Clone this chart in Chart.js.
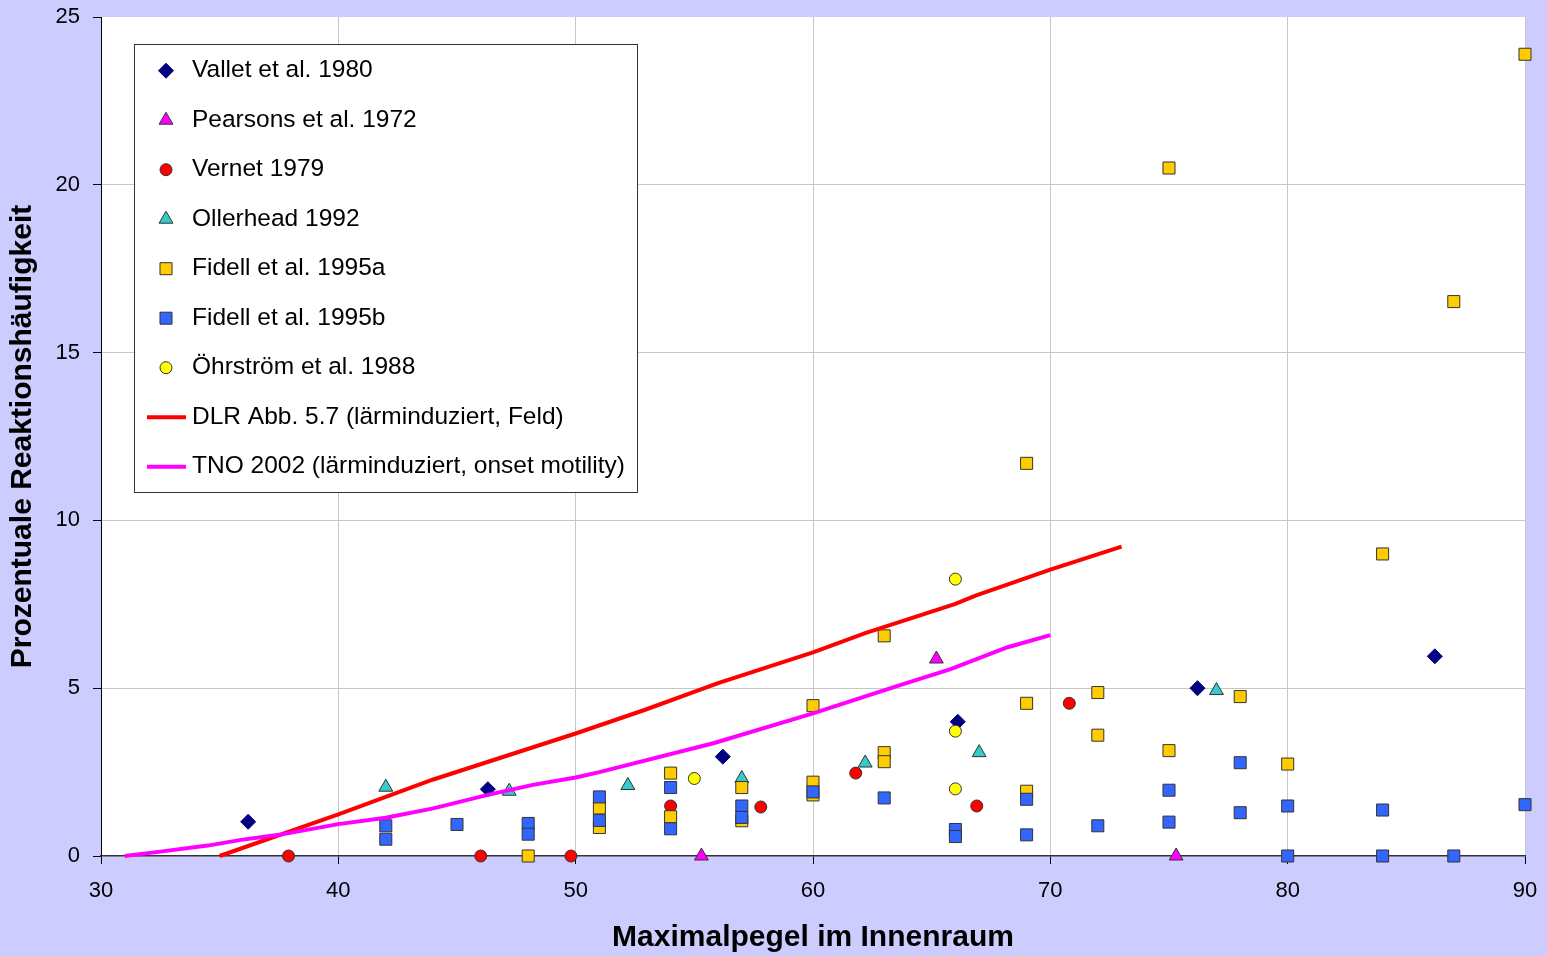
<!DOCTYPE html>
<html>
<head>
<meta charset="utf-8">
<script src="https://cdn.jsdelivr.net/npm/chart.js@4.4.1/dist/chart.umd.min.js"></script>
<style>
html,body{margin:0;padding:0;background:#ccccff;}
canvas{display:block;}
</style>
</head>
<body>
<canvas id="c" width="1547" height="956"></canvas>
<script>
// ---------- data ----------
const xTitle = 'Maximalpegel im Innenraum';
const yTitle = 'Prozentuale Reaktionshäufigkeit';
const xRange = [30, 90, 10];
const yRange = [0, 25, 5];

const seriesLabels = [
  'Vallet et al. 1980',
  'Pearsons et al. 1972',
  'Vernet 1979',
  'Ollerhead 1992',
  'Fidell et al. 1995a',
  'Fidell et al. 1995b',
  'Öhrström et al. 1988',
  'DLR Abb. 5.7 (lärminduziert, Feld)',
  'TNO 2002 (lärminduziert, onset motility)'
];

const vallet = [[36.2,1.02],[46.3,1.99],[56.2,2.96],[66.1,4.0],[76.2,5.0],[86.2,5.95]];
const pearsons = [[55.3,0],[65.2,5.87],[75.3,0]];
const vernet = [[37.9,0],[46.0,0],[49.8,0],[54.0,1.49],[57.8,1.46],[61.8,2.47],[66.9,1.49],[70.8,4.55]];
const ollerhead = [[42.0,2.05],[47.2,1.93],[52.2,2.1],[57.0,2.31],[62.2,2.77],[67.0,3.08],[77.0,4.93]];
const fidellA = [[48,0],[51,1.43],[51,0.85],[54,2.47],[54,1.17],[57,2.04],[57,1.05],[60,4.48],[60,2.2],[60,1.82],
  [63,6.56],[63,3.08],[63,2.81],[69,11.7],[69,4.55],[69,1.93],[72,4.87],[72,3.6],[75,20.5],[75,3.14],
  [78,4.75],[80,2.74],[84,9.0],[87,16.52],[90,23.89]];
const fidellB = [[42,0.9],[42,0.5],[45,0.94],[48,0.97],[48,0.65],[51,1.76],[51,1.06],[54,2.04],[54,0.81],
  [57,1.49],[57,1.15],[60,1.91],[63,1.73],[66,0.79],[66,0.58],[69,1.69],[69,0.63],[72,0.9],[75,1.96],
  [75,1.01],[78,2.78],[78,1.29],[80,1.49],[80,0],[84,1.37],[84,0],[87,0],[90,1.53]];
const ohrstrom = [[55.0,2.31],[66.0,8.25],[66.0,3.72],[66.0,2.0]];
const dlrCurve = [[35,0],[40,1.24],[44,2.28],[50,3.65],[52.9,4.35],[56,5.15],[60,6.07],[62.2,6.64],
  [66,7.51],[66.85,7.76],[70,8.53],[73,9.22]];
const tnoCurve = [[31,0],[32.5,0.13],[34.5,0.31],[35.9,0.48],[37.5,0.63],[40,0.95],[42,1.14],[44,1.42],
  [46.3,1.82],[48.2,2.12],[50,2.34],[51,2.5],[55.8,3.36],[60,4.25],[63.7,5.1],[65.8,5.57],[68.2,6.22],[70,6.58]];

// ---------- styling ----------
const FONT = "'Liberation Sans', Arial, Helvetica, sans-serif";
const toXY = a => a.map(p => ({x: p[0], y: p[1]}));
const EDGE = '#333333';

function pts(label, data, style, radius, fill, edge) {
  return {label, data: toXY(data), pointStyle: style, pointRadius: radius, pointHoverRadius: radius,
    backgroundColor: fill, borderColor: edge, borderWidth: 1, showLine: false, clip: false};
}
function curve(label, data, color) {
  return {label, data: toXY(data), showLine: true, pointRadius: 0, pointHoverRadius: 0,
    borderColor: color, backgroundColor: color, borderWidth: 4, tension: 0, fill: false, clip: false};
}

const datasets = [
  pts(seriesLabels[0], vallet, 'rectRot', 7.5, '#000080', '#000080'),
  pts(seriesLabels[1], pearsons, 'triangle', 8, '#ff00ff', EDGE),
  pts(seriesLabels[2], vernet, 'circle', 6, '#ff0000', EDGE),
  pts(seriesLabels[3], ollerhead, 'triangle', 8, '#33cccc', EDGE),
  pts(seriesLabels[4], fidellA, 'rect', 8.5, '#ffcc00', EDGE),
  pts(seriesLabels[5], fidellB, 'rect', 8.5, '#3366ff', EDGE),
  pts(seriesLabels[6], ohrstrom, 'circle', 6, '#ffff00', EDGE),
  curve(seriesLabels[7], dlrCurve, '#ff0000'),
  curve(seriesLabels[8], tnoCurve, '#ff00ff')
];
// later series drawn on top (like the original)
datasets.forEach((d, i) => { d.order = datasets.length - i; });

// ---------- plugins ----------
const bgPlugin = {
  id: 'bg',
  beforeDraw(chart) {
    const {ctx, chartArea: a} = chart;
    ctx.save();
    ctx.fillStyle = '#ccccff';
    ctx.fillRect(0, 0, chart.width, chart.height);
    ctx.fillStyle = '#ffffff';
    ctx.fillRect(a.left, a.top, a.right - a.left, a.bottom - a.top);
    ctx.restore();
  }
};

function marker(ctx, style, x, y, r, fill, edge) {
  ctx.beginPath();
  if (style === 'rectRot') {
    ctx.moveTo(x, y - r); ctx.lineTo(x + r, y); ctx.lineTo(x, y + r); ctx.lineTo(x - r, y); ctx.closePath();
  } else if (style === 'triangle') {
    const w = r * Math.sin(Math.PI * 2 / 3);
    ctx.moveTo(x, y - r); ctx.lineTo(x + w, y + r / 2); ctx.lineTo(x - w, y + r / 2); ctx.closePath();
  } else if (style === 'circle') {
    ctx.arc(x, y, r, 0, Math.PI * 2);
  } else {
    const s = r * Math.SQRT1_2;
    ctx.rect(x - s, y - s, 2 * s, 2 * s);
  }
  ctx.fillStyle = fill; ctx.fill();
  ctx.strokeStyle = edge; ctx.lineWidth = 1; ctx.stroke();
}

const legendBox = {left: 134, top: 44, width: 504, height: 449, rowTop: 70.7, rowStep: 49.5, markX: 166, textX: 192};
const boxLegend = {
  id: 'boxLegend',
  afterDraw(chart) {
    const ctx = chart.ctx, L = legendBox;
    ctx.save();
    ctx.fillStyle = '#ffffff';
    ctx.fillRect(L.left, L.top, L.width, L.height);
    ctx.strokeStyle = '#333333';
    ctx.lineWidth = 1;
    ctx.strokeRect(L.left + 0.5, L.top + 0.5, L.width - 1, L.height - 1);
    chart.data.datasets.forEach((ds, i) => {
      const y = L.rowTop + i * L.rowStep;
      if (ds.showLine) {
        ctx.beginPath();
        ctx.moveTo(147, y); ctx.lineTo(186, y);
        ctx.strokeStyle = ds.borderColor; ctx.lineWidth = 4; ctx.stroke();
      } else {
        marker(ctx, ds.pointStyle, L.markX, y, ds.pointRadius, ds.backgroundColor, ds.borderColor);
      }
      ctx.fillStyle = '#000000';
      ctx.font = '24.5px ' + FONT;
      ctx.textBaseline = 'middle';
      ctx.textAlign = 'left';
      ctx.fillText(ds.label, L.textX, y);
    });
    ctx.restore();
  }
};

// ---------- chart ----------
new Chart(document.getElementById('c'), {
  type: 'scatter',
  data: {datasets},
  plugins: [bgPlugin, boxLegend],
  options: {
    responsive: false,
    animation: false,
    devicePixelRatio: 1,
    events: [],
    layout: {autoPadding: false, padding: {left: 0, top: 17, right: 22, bottom: 0}},
    plugins: {legend: {display: false}, tooltip: {enabled: false}},
    scales: {
      x: {
        type: 'linear', position: 'bottom',
        min: xRange[0], max: xRange[1],
        afterFit: s => { s.height = 100; s.paddingLeft = 0; s.paddingRight = 0; },
        ticks: {stepSize: xRange[2], color: '#000', padding: 14, font: {family: FONT, size: 22}},
        grid: {
          color: c => (c.tick && c.tick.value === xRange[0]) ? 'rgba(0,0,0,0)' : '#c6c6c6',
          lineWidth: 1, tickColor: '#000', tickLength: 8, drawTicks: true
        },
        border: {color: '#333', width: 1.5},
        title: {display: true, text: xTitle, color: '#000', padding: {top: 0, bottom: 0},
          font: {family: FONT, size: 30, weight: 'bold'}}
      },
      y: {
        type: 'linear', position: 'left',
        min: yRange[0], max: yRange[1],
        afterFit: s => { s.width = 101; s.paddingTop = 0; s.paddingBottom = 0; },
        ticks: {stepSize: yRange[2], color: '#000', padding: 13, font: {family: FONT, size: 22}},
        grid: {
          color: c => (c.tick && (c.tick.value === yRange[0] || c.tick.value === yRange[1])) ? 'rgba(0,0,0,0)' : '#c6c6c6',
          lineWidth: 1, tickColor: '#000', tickLength: 8, drawTicks: true
        },
        border: {color: '#000', width: 1},
        title: {display: true, text: yTitle, color: '#000', padding: {top: 5, bottom: 0},
          font: {family: FONT, size: 30, weight: 'bold'}}
      }
    }
  }
});
</script>
</body>
</html>
